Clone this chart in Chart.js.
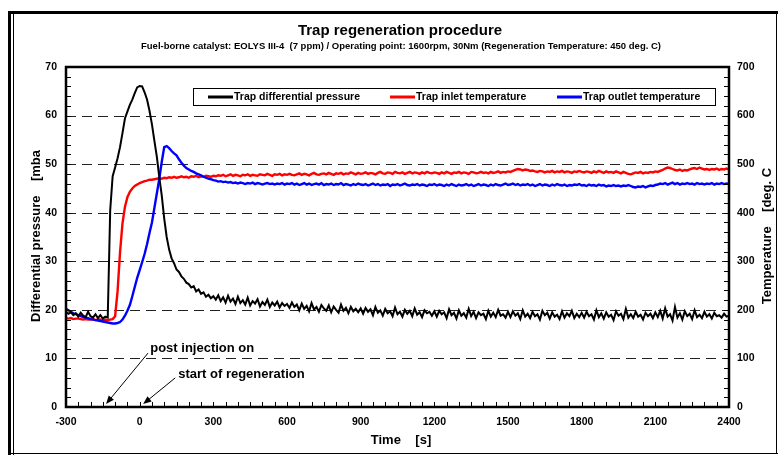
<!DOCTYPE html>
<html>
<head>
<meta charset="utf-8">
<title>Trap regeneration procedure</title>
<script src="https://cdn.jsdelivr.net/npm/chart.js@4.4.1/dist/chart.umd.min.js"></script>
<style>
  html, body { margin: 0; padding: 0; background: #fff; }
  #trapChart { display: block; }
</style>
</head>
<body>
<canvas id="trapChart" width="778" height="459"></canvas>
<script>
const FONT = '"Liberation Sans", Arial, sans-serif';

const chartTitle = 'Trap regeneration procedure';
const chartSubtitle = 'Fuel-borne catalyst: EOLYS III-4  (7 ppm) / Operating point: 1600rpm, 30Nm (Regeneration Temperature: 450 deg. C)';
const leftAxisTitle = 'Differential pressure    [mba';
const rightAxisTitle = 'Temperature    [deg. C';
const xAxisTitle = 'Time    [s]';

const seriesLabels = ['Trap differential pressure', 'Trap inlet temperature', 'Trap outlet temperature'];
const seriesColors = ['#000000', '#ff0000', '#0000ff'];

// sample grid: one reading every 10 s from -300 s to 2400 s
const timeS = Array.from({ length: 271 }, (_, i) => -300 + i * 10);

// trap differential pressure [mbar]
const diffPressure = [
  19.6, 19.2, 19.5, 18.9, 19.3, 18.6, 19.4, 18.8, 18.5, 19.6, 18.7, 18.4, 19.1, 18.3, 18.9, 18.2, 18.6,
  18.4, 40.5, 47.5, 49.3, 51.2, 53.5, 56.4, 59.4, 60.8, 62.2, 63.3, 64.6, 65.8, 66.1, 66.0, 64.8, 63.3,
  61.0, 58.2, 54.8, 51.5, 47.3, 43.5, 38.8, 35.0, 32.4, 30.6, 29.6, 28.3, 27.8, 26.9, 26.4, 25.6, 25.3,
  24.6, 24.9, 23.8, 24.2, 23.3, 23.6, 22.7, 23.1, 22.4, 22.8,
  22.1, 23.0, 21.8, 22.6, 21.5, 22.9, 21.7, 22.3, 21.2, 22.7, 21.4, 22.0, 21.1, 22.5, 20.9,
  21.8, 21.3, 22.2, 20.7, 21.6, 21.0, 22.1, 20.6, 21.5, 20.9, 21.7, 20.5, 21.4, 20.8, 21.2,
  20.4, 21.5, 20.6, 21.1, 19.9, 21.3, 20.2, 20.8, 19.7, 21.4, 20.1, 20.6, 19.6, 21.0, 20.3,
  19.8, 20.9, 19.5, 20.7, 20.0, 19.4, 21.1, 19.8, 20.4, 19.3, 20.6, 19.7, 20.2, 19.5, 20.3,
  19.2, 20.4, 19.6, 20.1, 18.9, 20.6, 19.4, 19.9, 18.8, 20.2, 19.3, 19.7, 18.7, 20.5, 19.1,
  19.6, 18.6, 20.0, 19.2, 19.8, 18.7, 20.3, 19.0, 19.5, 18.5, 19.9, 19.3, 19.6, 18.8, 19.7,
  18.6, 19.8, 19.1, 19.5, 18.3, 20.1, 18.9, 19.4, 18.2, 19.9, 18.8, 19.3, 18.4, 20.2, 18.7,
  19.6, 18.3, 19.5, 18.9, 19.2, 18.1, 19.8, 18.6, 19.4, 18.5, 20.0, 18.8, 19.1, 18.4, 19.6,
  18.5, 19.7, 18.8, 19.3, 18.1, 19.9, 18.6, 19.2, 18.3, 19.6, 18.7, 19.1, 18.0, 19.8, 18.9,
  19.4, 18.2, 19.5, 18.6, 19.0, 18.1, 19.7, 18.4, 19.3, 18.7, 19.8, 18.3, 19.2, 18.5, 19.4,
  18.4, 19.6, 18.7, 19.1, 18.0, 19.9, 18.5, 19.3, 18.2, 19.5, 18.6, 19.0, 17.9, 19.7, 18.8,
  19.2, 18.1, 20.2, 18.4, 19.1, 18.3, 19.6, 18.6, 19.0, 18.0, 19.4, 18.7, 19.2, 18.3, 19.5,
  18.5, 19.8, 18.2, 20.3, 18.6, 19.1, 17.8, 20.6, 18.4, 19.3, 18.0, 19.7, 18.7, 19.2, 18.1,
  19.9, 18.5, 19.0, 18.3, 19.6, 18.6, 19.1, 18.2, 19.4, 18.7, 18.9, 18.4, 19.2, 18.6, 18.8
];

// trap inlet temperature [deg. C]
const inletTemp = [
  183, 182, 183, 181, 182, 182, 181, 180, 181, 180, 180, 181, 179, 180, 180, 179, 180, 179, 180, 181,
  187, 238, 318, 378, 412, 432, 443, 450, 455, 458, 461, 463, 465, 466, 468, 468, 469, 470, 471, 470, 472,
  471, 473, 472, 474, 472, 473, 475, 473, 474, 472, 475, 474, 476, 473, 475, 474, 476, 475, 474, 476,
  475, 477, 476, 478, 475, 477, 479, 476, 478, 477, 475, 478, 477, 479, 476,
  478, 477, 476, 479, 478, 477, 480, 478, 476, 479, 478, 480, 477, 479, 478,
  480, 478, 477, 479, 481, 478, 480, 479, 477, 480, 482, 479, 478, 480, 481,
  479, 482, 480, 478, 481, 480, 482, 479, 481, 480, 483, 481, 479, 482, 480,
  481, 483, 480, 482, 481, 479, 482, 484, 481, 480, 483, 482, 480, 484, 482,
  481, 483, 480, 482, 484, 481, 483, 482, 480, 483, 481, 484, 482, 481, 483,
  482, 480, 483, 481, 484, 482, 480, 483, 482, 484, 481, 483, 482, 480, 484,
  483, 481, 482, 484, 482, 483, 481, 484, 482, 483, 485, 482, 484, 483, 485,
  484, 486, 488, 490, 489, 487, 489, 488, 486, 487, 485, 484, 486, 485, 483,
  485, 484, 486, 483, 485, 484, 486, 483, 485, 484, 482, 485, 484, 486, 484,
  483, 485, 484, 482, 485, 483, 486, 484, 482, 485, 483, 484, 482, 485, 483,
  481, 484, 482, 480, 479, 481, 483, 482, 484, 481, 483, 482, 484, 483, 485,
  484, 486, 488, 491, 493, 492, 490, 488, 487, 489, 486, 488, 487, 489, 491,
  492, 490, 493, 491, 489, 490, 488, 490, 489, 491, 488, 490, 489, 491, 489
];

// trap outlet temperature [deg. C]
const outletTemp = [
  202, 199, 196, 193, 191, 189, 187, 185, 184, 183, 181, 180, 179, 178, 177, 176, 175, 174, 173, 172,
  172, 173, 175, 180, 188, 198, 210, 228, 247, 266, 282, 298, 315, 335, 358, 380, 410, 440, 470, 505, 535,
  537, 533, 527, 522, 518, 510, 503, 497, 492, 489, 486, 484, 481, 479, 477, 474, 472, 470, 469, 467,
  466, 464, 465, 463, 464, 462, 463, 461, 462, 460, 462, 461, 459, 461, 460,
  462, 459, 461, 460, 458, 460, 461, 459, 460, 458, 460, 459, 461, 458, 460,
  459, 461, 458, 460, 457, 459, 461, 458, 460, 457, 459, 460, 458, 461, 457,
  459, 458, 460, 457, 459, 458, 461, 457, 459, 458, 456, 459, 457, 460, 458,
  457, 459, 456, 458, 460, 457, 459, 456, 458, 457, 459, 455, 458, 457, 459,
  456, 458, 460, 457, 456, 458, 457, 459, 456, 458, 457, 455, 458, 457, 459,
  456, 458, 457, 455, 458, 456, 459, 457, 455, 458, 456, 457, 459, 456, 458,
  455, 457, 459, 456, 458, 457, 455, 458, 456, 459, 457, 456, 458, 460, 457,
  458, 460, 457, 459, 456, 458, 457, 459, 456, 458, 455, 457, 459, 456, 458,
  457, 455, 458, 456, 459, 457, 456, 458, 455, 457, 456, 458, 457, 459, 456,
  457, 455, 458, 456, 457, 455, 458, 456, 457, 454, 456, 455, 457, 455, 456,
  454, 456, 455, 457, 455, 453, 452, 454, 453, 455, 452, 454, 456, 455, 457,
  458, 460, 459, 461, 458, 460, 462, 459, 461, 458, 460, 459, 461, 459, 460,
  458, 461, 459, 460, 458, 460, 459, 461, 458, 460, 459, 461, 459, 460, 459
];

// text notes with arrows, in data units (s, mbar)
const notes = [
  { text: 'post injection on', x: 43, y: 12.1, from: [34, 11.1], to: [-137, 0.6] },
  { text: 'start of regeneration', x: 157, y: 6.8, from: [145, 6.0], to: [14, 0.6] }
];

function pairUp(values) {
  return values.map((v, i) => ({ x: timeS[i], y: v }));
}

function arrow(ctx, x1, y1, x2, y2) {
  const ang = Math.atan2(y2 - y1, x2 - x1);
  const head = 9;
  ctx.beginPath();
  ctx.moveTo(x1, y1);
  ctx.lineTo(x2 - Math.cos(ang) * 5, y2 - Math.sin(ang) * 5);
  ctx.stroke();
  ctx.beginPath();
  ctx.moveTo(x2, y2);
  ctx.lineTo(x2 - head * Math.cos(ang - 0.38), y2 - head * Math.sin(ang - 0.38));
  ctx.lineTo(x2 - head * Math.cos(ang + 0.38), y2 - head * Math.sin(ang + 0.38));
  ctx.closePath();
  ctx.fill();
}

const decorPlugin = {
  id: 'decor',
  beforeDraw(chart) {
    const { ctx, width } = chart;
    ctx.save();
    ctx.fillStyle = '#fff';
    ctx.fillRect(0, 0, width, chart.height);

    // double frame round the page
    ctx.strokeStyle = '#000';
    ctx.lineWidth = 3;
    ctx.beginPath();
    ctx.moveTo(9.5, 455);
    ctx.lineTo(9.5, 12.5);
    ctx.lineTo(width, 12.5);
    ctx.stroke();
    ctx.lineWidth = 1;
    ctx.beginPath();
    ctx.moveTo(13.5, 455);
    ctx.lineTo(13.5, 14);
    ctx.moveTo(8, 453.5);
    ctx.lineTo(width, 453.5);
    ctx.moveTo(776.5, 12);
    ctx.lineTo(776.5, 454);
    ctx.stroke();

    ctx.fillStyle = '#000';
    ctx.textAlign = 'center';
    ctx.textBaseline = 'middle';
    ctx.font = 'bold 15px ' + FONT;
    ctx.fillText(chartTitle, 400, 31);
    ctx.font = 'bold 9.5px ' + FONT;
    ctx.fillText(chartSubtitle, 401, 46);

    ctx.font = 'bold 13px ' + FONT;
    ctx.fillText(xAxisTitle, 401, 440);

    ctx.save();
    ctx.translate(36, 236);
    ctx.rotate(-Math.PI / 2);
    ctx.fillText(leftAxisTitle, 0, 0);
    ctx.restore();

    ctx.save();
    ctx.translate(767, 236);
    ctx.rotate(-Math.PI / 2);
    ctx.fillText(rightAxisTitle, 0, 0);
    ctx.restore();
    ctx.restore();
  },
  beforeDatasetsDraw(chart) {
    const { ctx, chartArea: a, scales } = chart;
    ctx.save();
    ctx.strokeStyle = '#222';
    ctx.lineWidth = 1;
    ctx.setLineDash([10, 6]);
    for (let v = 10; v < 70; v += 10) {
      const y = Math.round(scales.y.getPixelForValue(v)) + 0.5;
      ctx.beginPath();
      ctx.moveTo(a.left, y);
      ctx.lineTo(a.right, y);
      ctx.stroke();
    }
    ctx.restore();
  },
  afterDatasetsDraw(chart) {
    const { ctx, chartArea: a, scales } = chart;
    ctx.save();
    ctx.strokeStyle = '#000';
    ctx.fillStyle = '#000';

    // minor ticks, pointing into the plot
    ctx.lineWidth = 1;
    ctx.beginPath();
    for (let v = 0; v <= 70; v += 2) {
      const y = Math.round(scales.y.getPixelForValue(v)) + 0.5;
      ctx.moveTo(a.left, y);
      ctx.lineTo(a.left + 5, y);
    }
    for (let v = 0; v <= 700; v += 20) {
      const y = Math.round(scales.y1.getPixelForValue(v)) + 0.5;
      ctx.moveTo(a.right, y);
      ctx.lineTo(a.right - 5, y);
    }
    for (let t = -300; t <= 2400; t += 50) {
      const x = Math.round(scales.x.getPixelForValue(t)) + 0.5;
      ctx.moveTo(x, a.bottom);
      ctx.lineTo(x, a.bottom - 5);
    }
    ctx.stroke();

    // plot border
    ctx.lineWidth = 2.5;
    ctx.strokeRect(a.left, a.top, a.right - a.left, a.bottom - a.top);

    // legend box
    ctx.lineWidth = 1;
    ctx.fillStyle = '#fff';
    ctx.fillRect(193.5, 88.5, 522, 17);
    ctx.strokeRect(193.5, 88.5, 522, 17);
    const legendX = [208, 390, 557];
    ctx.font = 'bold 10.5px ' + FONT;
    ctx.textAlign = 'left';
    ctx.textBaseline = 'middle';
    seriesLabels.forEach((label, i) => {
      ctx.strokeStyle = seriesColors[i];
      ctx.lineWidth = 3;
      ctx.beginPath();
      ctx.moveTo(legendX[i], 97);
      ctx.lineTo(legendX[i] + 25, 97);
      ctx.stroke();
      ctx.fillStyle = '#000';
      ctx.fillText(label, legendX[i] + 26, 97.5);
    });

    // notes
    ctx.font = 'bold 13px ' + FONT;
    ctx.strokeStyle = '#000';
    ctx.fillStyle = '#000';
    ctx.lineWidth = 1;
    notes.forEach(n => {
      ctx.fillText(n.text, scales.x.getPixelForValue(n.x), scales.y.getPixelForValue(n.y));
      arrow(ctx,
        scales.x.getPixelForValue(n.from[0]), scales.y.getPixelForValue(n.from[1]),
        scales.x.getPixelForValue(n.to[0]), scales.y.getPixelForValue(n.to[1]));
    });
    ctx.restore();
  }
};

const tickFont = { family: FONT, weight: 'bold', size: 10.5 };
const noGrid = { display: false, drawTicks: false, tickLength: 0 };

new Chart(document.getElementById('trapChart'), {
  type: 'scatter',
  data: {
    datasets: [
      {
        label: seriesLabels[0],
        data: pairUp(diffPressure),
        yAxisID: 'y',
        borderColor: seriesColors[0],
        borderWidth: 2,
        showLine: true,
        pointRadius: 0
      },
      {
        label: seriesLabels[2],
        data: pairUp(outletTemp),
        yAxisID: 'y1',
        borderColor: seriesColors[2],
        borderWidth: 2.4,
        showLine: true,
        pointRadius: 0
      },
      {
        label: seriesLabels[1],
        data: pairUp(inletTemp),
        yAxisID: 'y1',
        borderColor: seriesColors[1],
        borderWidth: 2.4,
        showLine: true,
        pointRadius: 0
      }
    ]
  },
  options: {
    responsive: false,
    animation: false,
    devicePixelRatio: 1,
    layout: { padding: { top: 67, left: 0, right: 0, bottom: 0 } },
    elements: { line: { tension: 0 } },
    plugins: {
      legend: { display: false },
      tooltip: { enabled: false }
    },
    scales: {
      x: {
        type: 'linear',
        min: -300,
        max: 2400,
        grid: noGrid,
        border: { display: false },
        ticks: {
          stepSize: 300,
          padding: 9,
          autoSkip: false,
          maxRotation: 0,
          color: '#000',
          font: tickFont,
          callback: v => String(v)
        },
        afterFit(scale) { scale.height = 52; }
      },
      y: {
        position: 'left',
        min: 0,
        max: 70,
        grid: noGrid,
        border: { display: false },
        ticks: { stepSize: 10, padding: 9, color: '#000', font: tickFont },
        afterFit(scale) { scale.width = 66; }
      },
      y1: {
        position: 'right',
        min: 0,
        max: 700,
        grid: noGrid,
        border: { display: false },
        ticks: { stepSize: 100, padding: 8, color: '#000', font: tickFont },
        afterFit(scale) { scale.width = 49; }
      }
    }
  },
  plugins: [decorPlugin]
});
</script>
</body>
</html>
